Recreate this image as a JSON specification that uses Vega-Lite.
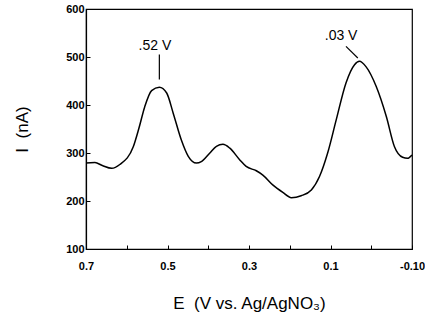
{
  "$schema": "https://vega.github.io/schema/vega-lite/v6.json",
  "width": 326,
  "height": 240,
  "autosize": {"type": "none"},
  "padding": {"left": 86, "top": 9, "right": 13, "bottom": 73},
  "background": "white",
  "config": {
    "view": {"stroke": "black", "strokeWidth": 1.2},
    "font": "Liberation Sans",
    "axis": {"grid": false, "domainColor": "black", "tickColor": "black", "labelColor": "black", "titleColor": "black", "labelFont": "Liberation Sans", "titleFont": "Liberation Sans", "labelFontWeight": "bold", "labelFontSize": 11, "titleFontSize": 17, "titleFontWeight": "normal", "tickSize": -4, "domainWidth": 1.2}
  },
  "datasets": {
    "curve": [
      {"E": 0.700, "I": 279}, {"E": 0.678, "I": 280}, {"E": 0.660, "I": 274}, {"E": 0.637, "I": 268},
      {"E": 0.617, "I": 276}, {"E": 0.584, "I": 313}, {"E": 0.570, "I": 352},
      {"E": 0.556, "I": 396}, {"E": 0.539, "I": 430}, {"E": 0.520, "I": 437}, {"E": 0.502, "I": 425},
      {"E": 0.486, "I": 383}, {"E": 0.466, "I": 327}, {"E": 0.449, "I": 293}, {"E": 0.429, "I": 279},
      {"E": 0.417, "I": 282}, {"E": 0.396, "I": 300}, {"E": 0.380, "I": 314}, {"E": 0.364, "I": 318},
      {"E": 0.347, "I": 310}, {"E": 0.323, "I": 286}, {"E": 0.307, "I": 272}, {"E": 0.282, "I": 263},
      {"E": 0.266, "I": 254}, {"E": 0.241, "I": 233}, {"E": 0.217, "I": 218}, {"E": 0.196, "I": 207},
      {"E": 0.172, "I": 211}, {"E": 0.147, "I": 223}, {"E": 0.127, "I": 251}, {"E": 0.107, "I": 300},
      {"E": 0.086, "I": 369}, {"E": 0.062, "I": 446}, {"E": 0.041, "I": 484}, {"E": 0.029, "I": 491},
      {"E": 0.013, "I": 480}, {"E": -0.012, "I": 439}, {"E": -0.037, "I": 376}, {"E": -0.057, "I": 313},
      {"E": -0.077, "I": 291}, {"E": -0.089, "I": 289}, {"E": -0.100, "I": 296}
    ],
    "leaders": [
      {"E": 0.520, "I": 505, "E2": 0.520, "I2": 453},
      {"E": 0.062, "I": 522, "E2": 0.033, "I2": 498}
    ],
    "labels": [
      {"E": 0.531, "I": 522, "label": ".52 V"},
      {"E": 0.074, "I": 544, "label": ".03 V"}
    ]
  },
  "layer": [
    {
      "data": {"name": "curve"},
      "mark": {"type": "line", "color": "black", "strokeWidth": 1.5, "interpolate": "monotone"},
      "encoding": {
        "x": {"field": "E", "type": "quantitative", "title": "E \u00a0(V vs. Ag/AgNO₃)",
          "scale": {"domain": [-0.1, 0.7], "reverse": true, "nice": false, "zero": false},
          "axis": {"values": [0.7, 0.6, 0.5, 0.4, 0.3, 0.2, 0.1, 0.0, -0.1],
            "labelExpr": "round(datum.value*10) == -1 ? '-0.10' : (indexof([7,5,3,1], round(datum.value*10)) >= 0 ? format(datum.value, '.1f') : '')",
            "labelPadding": 15, "titlePadding": 24, "labelFlush": false}},
        "y": {"field": "I", "type": "quantitative", "title": "I \u00a0(nA)",
          "scale": {"domain": [100, 600], "nice": false, "zero": false},
          "axis": {"values": [100, 150, 200, 250, 300, 350, 400, 450, 500, 550, 600],
            "labelExpr": "datum.value % 100 == 0 ? datum.value : ''",
            "labelPadding": 6, "titlePadding": 34, "labelFlush": false}}
      }
    },
    {
      "data": {"name": "leaders"},
      "mark": {"type": "rule", "color": "black", "strokeWidth": 1.2},
      "encoding": {
        "x": {"field": "E", "type": "quantitative"},
        "y": {"field": "I", "type": "quantitative"},
        "x2": {"field": "E2"},
        "y2": {"field": "I2"}
      }
    },
    {
      "data": {"name": "labels"},
      "mark": {"type": "text", "color": "black", "fontSize": 14, "font": "Liberation Sans"},
      "encoding": {
        "x": {"field": "E", "type": "quantitative"},
        "y": {"field": "I", "type": "quantitative"},
        "text": {"field": "label"}
      }
    }
  ]
}
